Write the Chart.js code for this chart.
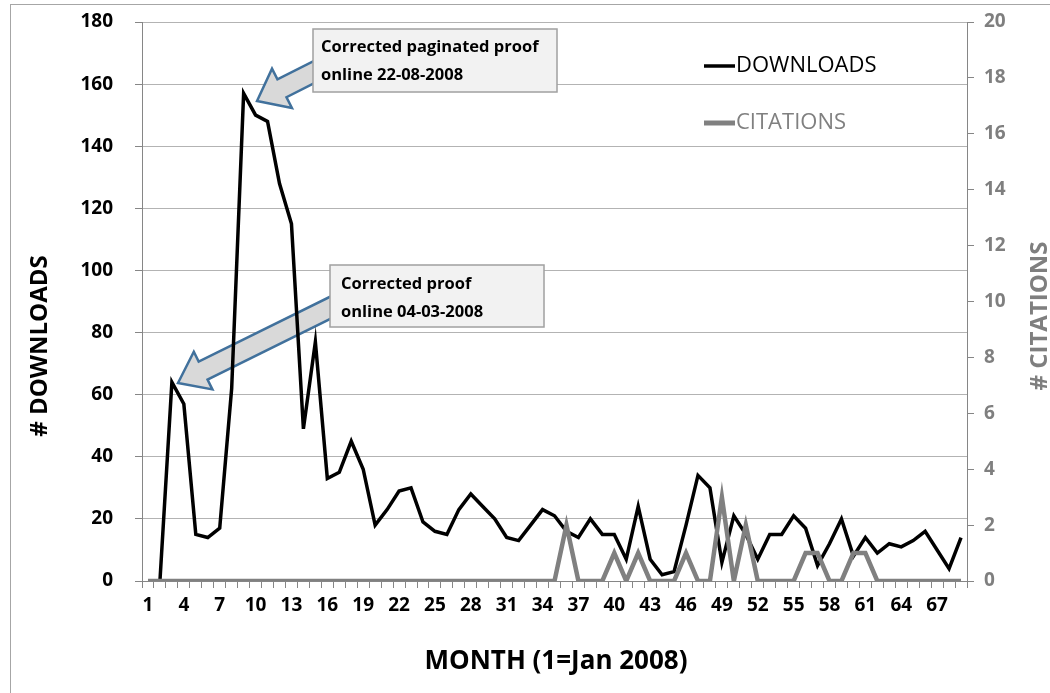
<!DOCTYPE html>
<html>
<head>
<meta charset="utf-8">
<script src="https://cdn.jsdelivr.net/npm/chart.js@4.4.1/dist/chart.umd.min.js"></script>
<style>
  html, body { margin: 0; padding: 0; background: #fff; }
  #wrap { width: 1050px; height: 693px; }
</style>
</head>
<body>
<div id="wrap"><canvas id="chart" width="1050" height="693"></canvas></div>
<script>
// months 1..69 (1 = Jan 2008)
const months = Array.from({ length: 69 }, (_, i) => String(i + 1));

const downloads = [
  0, 0, 64, 57, 15, 14, 17, 62, 157, 150,
  148, 128, 115, 49, 77, 33, 35, 45, 36, 18,
  23, 29, 30, 19, 16, 15, 23, 28, 24, 20,
  14, 13, 18, 23, 21, 16, 14, 20, 15, 15,
  7, 24, 7, 2, 3, 18, 34, 30, 6, 21,
  15, 7, 15, 15, 21, 17, 5, 12, 20, 8,
  14, 9, 12, 11, 13, 16, 10, 4, 14,
];

const citations = [
  0, 0, 0, 0, 0, 0, 0, 0, 0, 0,
  0, 0, 0, 0, 0, 0, 0, 0, 0, 0,
  0, 0, 0, 0, 0, 0, 0, 0, 0, 0,
  0, 0, 0, 0, 0, 2, 0, 0, 0, 1,
  0, 1, 0, 0, 0, 1, 0, 0, 3, 0,
  2, 0, 0, 0, 0, 1, 1, 0, 0, 1,
  1, 0, 0, 0, 0, 0, 0, 0, 0,
];

const callouts = [
  { lines: ['Corrected paginated proof', 'online 22-08-2008'] },
  { lines: ['Corrected proof', 'online 04-03-2008'] },
];

const FONT = "'Open Sans', 'Noto Sans', sans-serif";
const AXIS_GREY = '#868686';

// block arrow: tip -> tail, drawn as a polygon
function blockArrow(ctx, tip, tail, shaftW, headW, headL) {
  const dx = tail[0] - tip[0], dy = tail[1] - tip[1];
  const len = Math.hypot(dx, dy);
  const ux = dx / len, uy = dy / len;
  const nx = -uy, ny = ux;
  const bx = tip[0] + ux * headL, by = tip[1] + uy * headL;
  ctx.beginPath();
  ctx.moveTo(tip[0], tip[1]);
  ctx.lineTo(bx + nx * headW / 2, by + ny * headW / 2);
  ctx.lineTo(bx + nx * shaftW / 2, by + ny * shaftW / 2);
  ctx.lineTo(tail[0] + nx * shaftW / 2, tail[1] + ny * shaftW / 2);
  ctx.lineTo(tail[0] - nx * shaftW / 2, tail[1] - ny * shaftW / 2);
  ctx.lineTo(bx - nx * shaftW / 2, by - ny * shaftW / 2);
  ctx.lineTo(bx - nx * headW / 2, by - ny * headW / 2);
  ctx.closePath();
  ctx.fillStyle = '#d9d9d9';
  ctx.fill();
  ctx.strokeStyle = '#41719c';
  ctx.lineWidth = 2.5;
  ctx.lineJoin = 'miter';
  ctx.stroke();
}

function calloutBox(ctx, x, y, w, h, lines, tx, ty, lh) {
  ctx.fillStyle = '#f2f2f2';
  ctx.fillRect(x, y, w, h);
  ctx.strokeStyle = '#a0a0a0';
  ctx.lineWidth = 1.5;
  ctx.strokeRect(x, y, w, h);
  ctx.fillStyle = '#000';
  ctx.font = `bold 16.5px ${FONT}`;
  ctx.textAlign = 'left';
  ctx.textBaseline = 'middle';
  lines.forEach((t, i) => ctx.fillText(t, tx, ty + i * lh));
}

const extras = {
  id: 'extras',
  beforeDatasetsDraw(chart) {
    const ctx = chart.ctx;
    ctx.save();
    blockArrow(ctx, [257, 101], [322, 68], 20, 44, 28);
    blockArrow(ctx, [178, 383], [340, 303], 20, 42, 28);
    calloutBox(ctx, 313, 29, 244, 63, callouts[0].lines, 321, 47, 28);
    calloutBox(ctx, 330, 265, 214, 62, callouts[1].lines, 341, 284, 28);
    ctx.restore();
  },
  afterDraw(chart) {
    const ctx = chart.ctx;
    ctx.save();
    // outer frame
    ctx.strokeStyle = '#a6a6a6';
    ctx.lineWidth = 1;
    ctx.strokeRect(10.5, 4.5, 1045, 700);

    // legend
    ctx.lineCap = 'butt';
    ctx.strokeStyle = '#000';
    ctx.lineWidth = 3.5;
    ctx.beginPath(); ctx.moveTo(704, 66); ctx.lineTo(735, 66); ctx.stroke();
    ctx.strokeStyle = '#808080';
    ctx.lineWidth = 5;
    ctx.beginPath(); ctx.moveTo(704, 123); ctx.lineTo(735, 123); ctx.stroke();
    ctx.font = `22px ${FONT}`;
    ctx.textAlign = 'left';
    ctx.textBaseline = 'middle';
    ctx.fillStyle = '#000';
    ctx.fillText('DOWNLOADS', 736, 66);
    ctx.fillStyle = '#808080';
    ctx.fillText('CITATIONS', 736, 123);

    // axis titles
    ctx.textAlign = 'center';
    ctx.font = `bold 26px ${FONT}`;
    ctx.fillStyle = '#000';
    ctx.fillText('MONTH (1=Jan 2008)', 556, 662);
    ctx.font = `bold 24px ${FONT}`;
    ctx.translate(40, 346);
    ctx.rotate(-Math.PI / 2);
    ctx.fillText('# DOWNLOADS', 0, 0);
    ctx.rotate(Math.PI / 2);
    ctx.translate(-40, -346);
    ctx.fillStyle = '#7f7f7f';
    ctx.translate(1040, 316);
    ctx.rotate(-Math.PI / 2);
    ctx.fillText('# CITATIONS', 0, 0);
    ctx.restore();
  },
};

const tickFont = { family: FONT, size: 19, weight: 'bold' };

// keep tick padding from pushing the plot area down
function fixWidth(w) {
  return (s) => { s.width = w; s.paddingTop = 0; s.paddingBottom = 0; };
}

new Chart(document.getElementById('chart'), {
  type: 'line',
  data: {
    labels: months,
    datasets: [
      { label: 'CITATIONS', data: citations, yAxisID: 'y1', borderColor: '#808080', borderWidth: 4.5, order: 0 },
      { label: 'DOWNLOADS', data: downloads, yAxisID: 'y', borderColor: '#000000', borderWidth: 3.5, order: 1 },
    ],
  },
  options: {
    responsive: false,
    animation: false,
    layout: { padding: { top: 22, left: 0, right: 0, bottom: 0 } },
    elements: {
      point: { radius: 0 },
      line: { tension: 0, borderJoinStyle: 'miter', fill: false },
    },
    plugins: { legend: { display: false }, tooltip: { enabled: false } },
    scales: {
      x: {
        offset: true,
        grid: { offset: true, drawOnChartArea: false, tickLength: 7, color: AXIS_GREY },
        border: { color: AXIS_GREY },
        ticks: {
          autoSkip: false,
          maxRotation: 0,
          padding: 6,
          color: '#000',
          font: tickFont,
          callback(v, i) { return i % 3 === 0 ? this.getLabelForValue(v) : ''; },
        },
        afterFit(s) { s.height = 112; },
      },
      y: {
        position: 'left',
        min: 0,
        max: 180,
        ticks: { stepSize: 20, padding: 22, color: '#000', font: tickFont },
        grid: { color: '#b3b3b3', tickColor: AXIS_GREY, tickLength: 7 },
        border: { color: AXIS_GREY },
        afterFit: fixWidth(142),
      },
      y1: {
        position: 'right',
        min: 0,
        max: 20,
        ticks: { stepSize: 2, padding: 10, color: '#7f7f7f', font: tickFont },
        grid: { drawOnChartArea: false, tickColor: AXIS_GREY, tickLength: 7 },
        border: { color: AXIS_GREY },
        afterFit: fixWidth(83),
      },
    },
  },
  plugins: [extras],
});
</script>
</body>
</html>
